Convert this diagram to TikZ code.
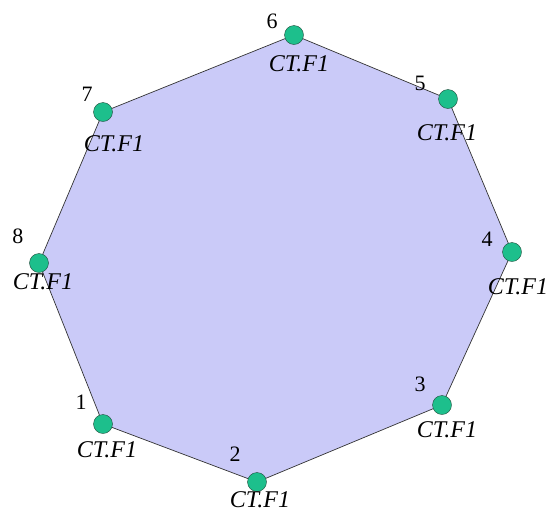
\documentclass[tikz,border=0pt]{standalone}
\usepackage{fontspec}
\setmainfont{Liberation Serif}
\usetikzlibrary{positioning}
\definecolor{octfill}{HTML}{CACAF8}
\definecolor{dotgreen}{HTML}{1DBF8C}
\definecolor{dotborder}{HTML}{1F4A3A}

\begin{document}
\begin{tikzpicture}[x=1pt,y=-1pt]
\tikzstyle{pin}=[circle,draw=dotborder,fill=dotgreen,minimum size=19pt,inner sep=0pt]
\tikzstyle{num}=[inner sep=0pt,font=\fontsize{22}{26}\selectfont]
\tikzstyle{tag}=[inner sep=0pt,font=\fontsize{24}{28}\selectfont\itshape]
\useasboundingbox (0,0) rectangle (548,512);
\coordinate (p1) at (103,424);
\coordinate (p2) at (257,482);
\coordinate (p3) at (442,405);
\coordinate (p4) at (512,252);
\coordinate (p5) at (448,99);
\coordinate (p6) at (294,35);
\coordinate (p7) at (103,112);
\coordinate (p8) at (39,263);
\draw[fill=octfill,draw=black!80,line width=0.7pt] (p1)--(p2)--(p3)--(p4)--(p5)--(p6)--(p7)--(p8)--cycle;
\node[pin] (v1) at (p1) {};
\node[pin] (v2) at (p2) {};
\node[pin] (v3) at (p3) {};
\node[pin] (v4) at (p4) {};
\node[pin] (v5) at (p5) {};
\node[pin] (v6) at (p6) {};
\node[pin] (v7) at (p7) {};
\node[pin] (v8) at (p8) {};
% vertex numbers
\node[num] (n1) at ([shift={(-22,-22)}]v1) {1};
\node[num] (n2) at ([shift={(-22,-28)}]v2) {2};
\node[num] (n3) at ([shift={(-22,-21)}]v3) {3};
\node[num] (n4) at ([shift={(-25,-13)}]v4) {4};
\node[num] (n5) at ([shift={(-28,-16)}]v5) {5};
\node[num] (n6) at ([shift={(-22,-14)}]v6) {6};
\node[num] (n7) at ([shift={(-16,-18)}]v7) {7};
\node[num] (n8) at ([shift={(-21,-27)}]v8) {8};
% labels
\node[tag] (t1) at ([shift={(4,26)}]v1) {CT.F1};
\node[tag] (t2) at ([shift={(3,18)}]v2) {CT.F1};
\node[tag] (t3) at ([shift={(5,25)}]v3) {CT.F1};
\node[tag] (t4) at ([shift={(6,35)}]v4) {CT.F1};
\node[tag] (t5) at ([shift={(-1,34)}]v5) {CT.F1};
\node[tag] (t6) at ([shift={(5,29)}]v6) {CT.F1};
\node[tag] (t7) at ([shift={(11,32)}]v7) {CT.F1};
\node[tag] (t8) at ([shift={(4,19)}]v8) {CT.F1};
\end{tikzpicture}
\end{document}
